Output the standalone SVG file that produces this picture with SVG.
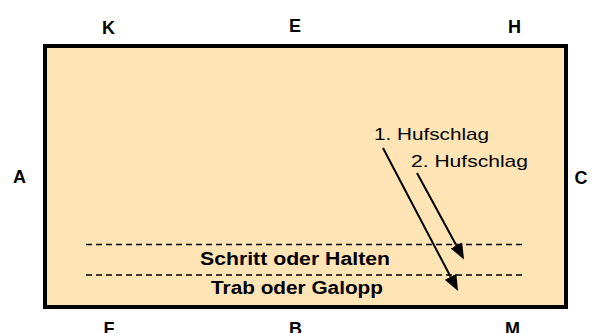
<svg xmlns="http://www.w3.org/2000/svg" width="593" height="333" viewBox="0 0 593 333">
<defs>
<style>
.lbl{font-family:"Liberation Sans",Arial,sans-serif;font-weight:bold;font-size:18px;fill:#000;text-anchor:middle}
.zone{font-family:"Liberation Sans",Arial,sans-serif;font-weight:bold;font-size:18px;fill:#000;text-anchor:middle}
.huf{font-family:"Liberation Sans",Arial,sans-serif;font-size:17px;fill:#000}
.dash{stroke:#000;stroke-width:1.6;stroke-dasharray:6,4;fill:none}
.arr{stroke:#000;stroke-width:2;fill:none;marker-end:url(#ah)}
</style>
<marker id="ah" markerUnits="userSpaceOnUse" markerWidth="17" markerHeight="14" refX="0" refY="6.5" orient="auto" viewBox="0 0 17 13">
<path d="M0,0 L16,6.5 L0,13 z" fill="#000"/>
</marker>
</defs>
<g id="arena">
<rect x="45" y="46" width="521" height="261" fill="#FFE4B5" stroke="#000" stroke-width="4"/>
</g>
<g id="letters">
<text class="lbl" x="108.5" y="34">K</text>
<text class="lbl" x="295" y="32">E</text>
<text class="lbl" x="514.5" y="33">H</text>
<text class="lbl" x="19.5" y="183">A</text>
<text class="lbl" x="581" y="184">C</text>
<text class="lbl" x="109" y="335">F</text>
<text class="lbl" x="295.5" y="335">B</text>
<text class="lbl" x="512.5" y="335">M</text>
</g>
<g id="zones">
<line class="dash" x1="86" y1="244.5" x2="526" y2="244.5"/>
<line class="dash" x1="86" y1="275" x2="526" y2="275"/>
<text class="zone" x="295" y="265" textLength="190" lengthAdjust="spacingAndGlyphs">Schritt oder Halten</text>
<text class="zone" x="297" y="294" textLength="172" lengthAdjust="spacingAndGlyphs">Trab oder Galopp</text>
</g>
<g id="hufschlag-labels">
<text class="huf" x="374" y="140" textLength="115" lengthAdjust="spacingAndGlyphs">1. Hufschlag</text>
<text class="huf" x="411" y="167" textLength="117" lengthAdjust="spacingAndGlyphs">2. Hufschlag</text>
</g>
<g id="connectors">
<line class="arr" x1="383" y1="148" x2="450.6" y2="276.8"/>
<line class="arr" x1="417" y1="173" x2="456.4" y2="245.4"/>
</g>
</svg>
